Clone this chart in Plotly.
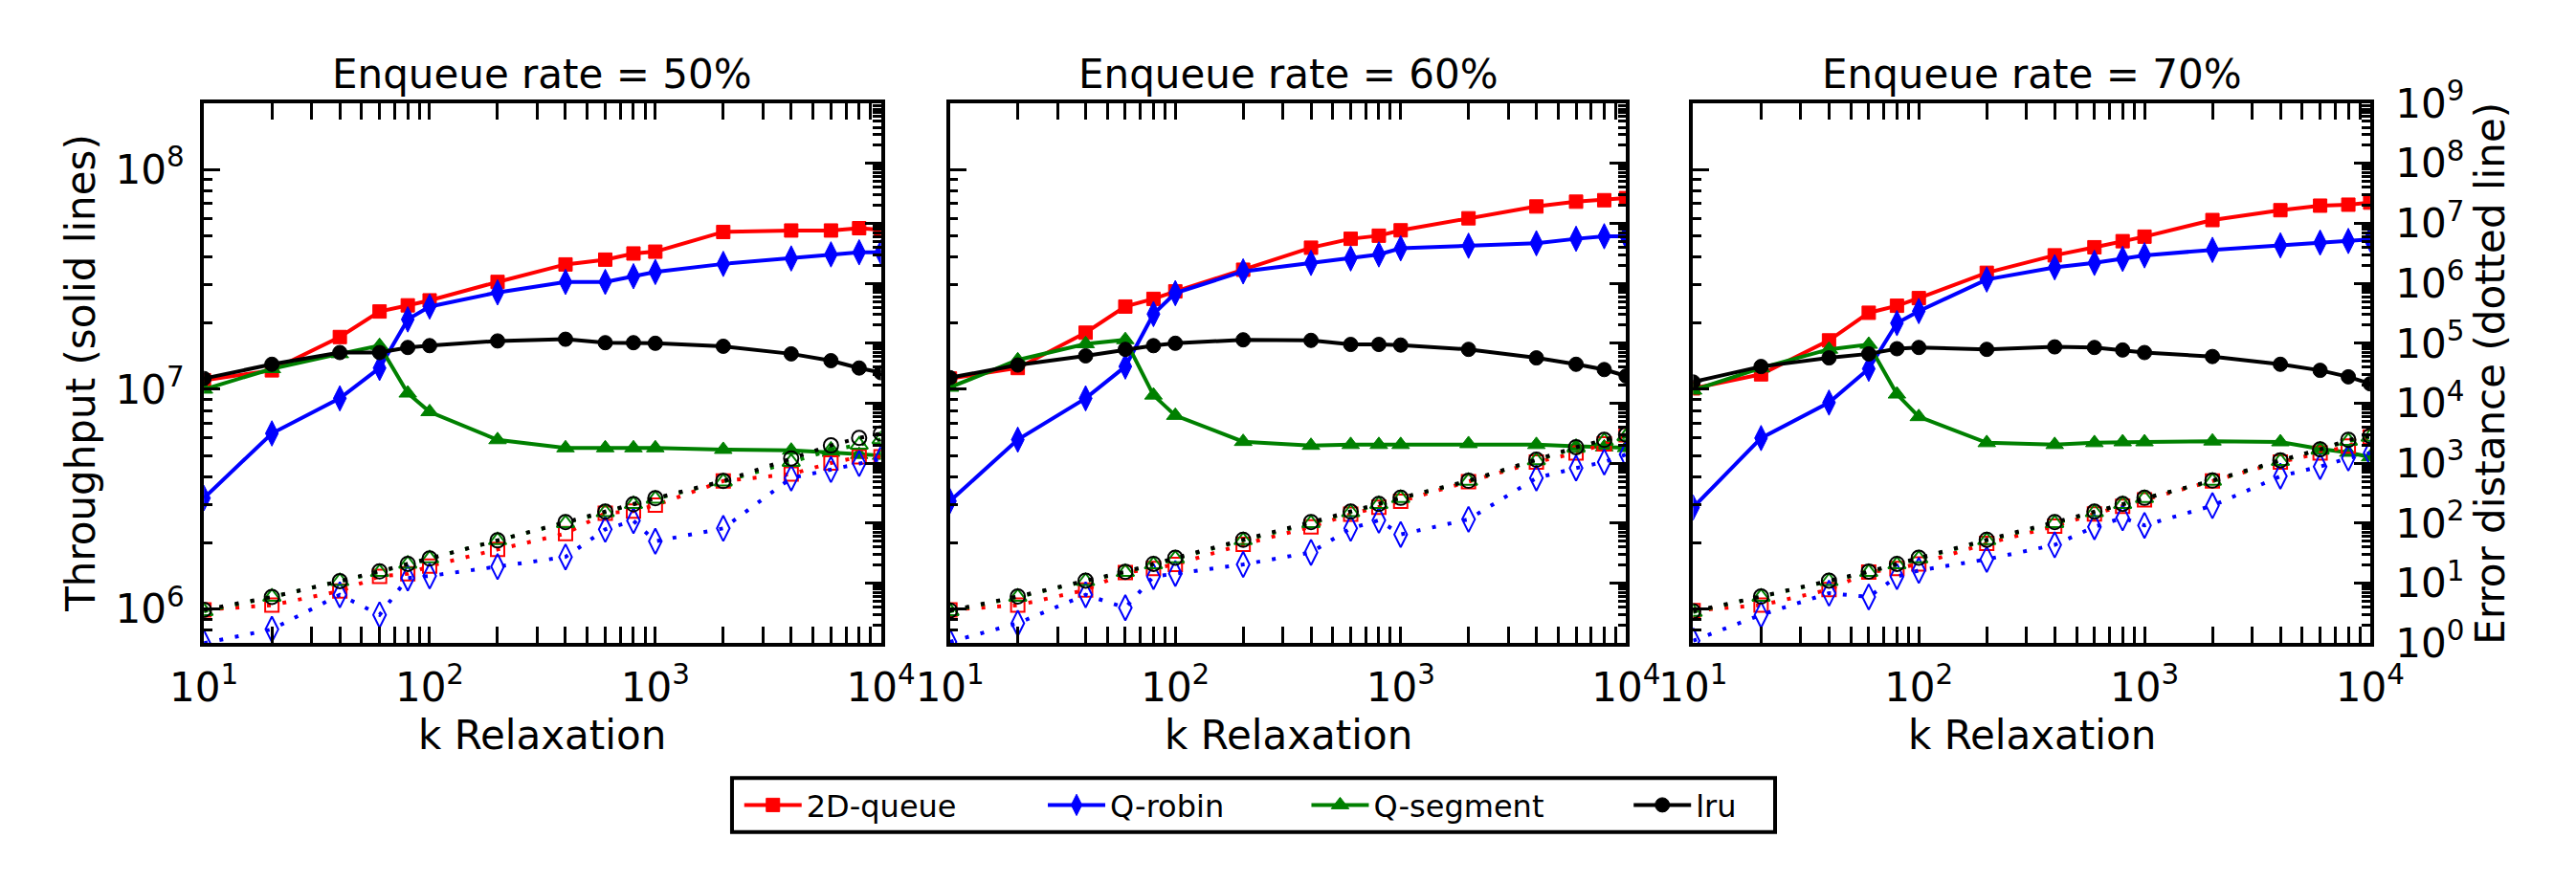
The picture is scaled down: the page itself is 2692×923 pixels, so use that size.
import plotly.graph_objects as go

# ---------------- data ----------------
k_relaxation = [10, 20, 40, 60, 80, 100, 200, 400, 600, 800, 1000, 2000, 4000, 6000, 8000, 10000]
enqueue_rates = ["50%", "60%", "70%"]
series_names = ["2D-queue", "Q-robin", "Q-segment", "lru"]

# throughput (solid lines), enqueue rate 50%
tp50_2dqueue = [1.10e7, 1.22e7, 1.73e7, 2.26e7, 2.41e7, 2.54e7, 3.08e7, 3.70e7, 3.89e7, 4.15e7, 4.23e7, 5.20e7, 5.28e7, 5.28e7, 5.41e7, 5.32e7]
tp50_qrobin = [3.2e6, 6.3e6, 9.1e6, 1.25e7, 2.08e7, 2.38e7, 2.76e7, 3.08e7, 3.08e7, 3.27e7, 3.42e7, 3.72e7, 3.94e7, 4.11e7, 4.20e7, 4.20e7]
tp50_qsegment = [1.0e7, 1.24e7, 1.45e7, 1.58e7, 9.6e6, 7.9e6, 5.89e6, 5.41e6, 5.41e6, 5.41e6, 5.41e6, 5.32e6, 5.28e6, 5.16e6, 5.05e6, 5.0e6]
tp50_lru = [1.12e7, 1.30e7, 1.47e7, 1.47e7, 1.55e7, 1.58e7, 1.66e7, 1.69e7, 1.63e7, 1.63e7, 1.62e7, 1.57e7, 1.45e7, 1.35e7, 1.25e7, 1.19e7]

# throughput, enqueue rate 60%
tp60_2dqueue = [1.12e7, 1.25e7, 1.81e7, 2.38e7, 2.58e7, 2.79e7, 3.50e7, 4.41e7, 4.84e7, 5.0e7, 5.29e7, 6.0e7, 6.79e7, 7.14e7, 7.25e7, 7.41e7]
tp60_qrobin = [3.1e6, 5.9e6, 9.1e6, 1.27e7, 2.2e7, 2.74e7, 3.44e7, 3.76e7, 3.94e7, 4.11e7, 4.38e7, 4.5e7, 4.62e7, 4.84e7, 4.97e7, 4.97e7]
tp60_qsegment = [1.02e7, 1.36e7, 1.61e7, 1.68e7, 9.4e6, 7.6e6, 5.78e6, 5.55e6, 5.6e6, 5.6e6, 5.6e6, 5.65e6, 5.6e6, 5.5e6, 5.46e6, 5.42e6]
tp60_lru = [1.13e7, 1.29e7, 1.42e7, 1.52e7, 1.58e7, 1.62e7, 1.68e7, 1.67e7, 1.60e7, 1.60e7, 1.59e7, 1.52e7, 1.39e7, 1.30e7, 1.23e7, 1.15e7]

# throughput, enqueue rate 70%
tp70_2dqueue = [1.01e7, 1.17e7, 1.67e7, 2.23e7, 2.40e7, 2.60e7, 3.39e7, 4.07e7, 4.43e7, 4.72e7, 4.95e7, 5.89e7, 6.53e7, 6.85e7, 6.92e7, 7.07e7]
tp70_qrobin = [2.9e6, 6.0e6, 8.7e6, 1.24e7, 2.0e7, 2.27e7, 3.16e7, 3.59e7, 3.76e7, 3.92e7, 4.07e7, 4.31e7, 4.52e7, 4.65e7, 4.73e7, 4.81e7]
tp70_qsegment = [9.9e6, 1.25e7, 1.52e7, 1.60e7, 9.5e6, 7.5e6, 5.71e6, 5.6e6, 5.71e6, 5.76e6, 5.76e6, 5.81e6, 5.76e6, 5.36e6, 5.16e6, 4.92e6]
tp70_lru = [1.08e7, 1.27e7, 1.39e7, 1.45e7, 1.53e7, 1.55e7, 1.52e7, 1.56e7, 1.55e7, 1.51e7, 1.47e7, 1.41e7, 1.30e7, 1.22e7, 1.14e7, 1.06e7]

# error distance (dotted lines), enqueue rate 50%
err50_2dqueue = [3.6, 4.3, 7.4, 13.0, 14.3, 19.3, 36.5, 67, 147, 159, 200, 505, 659, 1010, 1275, 1275]
err50_qrobin = [1.0, 1.7, 6.4, 2.97, 12.2, 13.2, 18.9, 27.4, 79, 110, 50, 82, 567, 784, 988, 1175]
err50_qsegment = [3.4, 5.9, 10.8, 15.3, 21, 25.8, 51.7, 100, 152, 207, 255, 494, 1048, 1660, 2026, 2495]
err50_lru = [3.6, 5.9, 10.8, 15.7, 21, 25.8, 51.7, 104, 156, 207, 261, 505, 1205, 1980, 2642, 3143]

# error distance, enqueue rate 60%
err60_2dqueue = [3.6, 4.3, 7.7, 15, 17.6, 20.5, 44.5, 87, 141, 185, 233, 494, 1048, 1482, 2098, 2967]
err60_qrobin = [1.05, 2.15, 6.4, 3.9, 12.9, 14.5, 20.5, 32.6, 82, 112, 65, 116, 567, 831, 1048, 1400]
err60_qsegment = [3.4, 5.9, 10.8, 15.3, 20.5, 25.8, 51.7, 100, 152, 207, 261, 505, 1110, 1803, 2353, 2800]
err60_lru = [3.5, 6.0, 11, 15.5, 21, 26.5, 53, 104, 156, 210, 265, 510, 1150, 1850, 2450, 3000]

# error distance, enqueue rate 70%
err70_2dqueue = [3.5, 4.3, 7.8, 15.3, 17.6, 21, 46, 89, 143, 191, 246, 505, 1048, 1482, 1934, 2737]
err70_qrobin = [1.1, 2.97, 6.8, 5.9, 12.9, 16.3, 25, 43.5, 87, 123, 92, 196, 608, 880, 1218, 1482]
err70_qsegment = [3.3, 5.9, 10.8, 15.3, 20.5, 25.8, 51.7, 100, 152, 207, 261, 505, 1084, 1664, 2353, 2737]
err70_lru = [3.4, 6.0, 11, 15.6, 21, 26.5, 53, 104, 156, 210, 265, 515, 1120, 1700, 2450, 2850]

# tick labels
x_tick_vals = [10, 100, 1000, 10000]
x_tick_text = ["10<sup>1</sup>", "10<sup>2</sup>", "10<sup>3</sup>", "10<sup>4</sup>"]
tp_tick_vals = [1e6, 1e7, 1e8]
tp_tick_text = ["10<sup>6</sup>", "10<sup>7</sup>", "10<sup>8</sup>"]
err_tick_vals = [10 ** e for e in range(0, 10)]
err_tick_text = ["10<sup>%d</sup>" % e for e in range(0, 10)]

throughput = {
    "50%": [tp50_2dqueue, tp50_qrobin, tp50_qsegment, tp50_lru],
    "60%": [tp60_2dqueue, tp60_qrobin, tp60_qsegment, tp60_lru],
    "70%": [tp70_2dqueue, tp70_qrobin, tp70_qsegment, tp70_lru],
}
error = {
    "50%": [err50_2dqueue, err50_qrobin, err50_qsegment, err50_lru],
    "60%": [err60_2dqueue, err60_qrobin, err60_qsegment, err60_lru],
    "70%": [err70_2dqueue, err70_qrobin, err70_qsegment, err70_lru],
}

# ---------------- styles ----------------
W, H = 2692, 923
FONT = "DejaVu Sans"
colors = ["#ff0000", "#0000ff", "#008000", "#000000"]
symbols = ["square", "diamond-tall", "triangle-up", "circle"]
msizes = [14, 19, 16, 15]
LW = 4
legend_ids = ["legend", "legend2", "legend3", "legend4"]

x_px = [(182, 909), (983, 1709), (1781, 2508)]
y_px = (83, 683)
ydom = [1 - y_px[1] / H, 1 - y_px[0] / H]

tp_range = [5.8451, 8.3010]   # log10(7e5) .. log10(2e8)
err_range = [0, 9]


def minor_vals(e0, e1):
    return [m * 10 ** e for e in range(e0, e1) for m in range(2, 10)]


fig = go.Figure()
layout = dict(
    width=W, height=H, autosize=False,
    margin=dict(l=0, r=0, t=0, b=0),
    paper_bgcolor="white", plot_bgcolor="white",
    font=dict(family=FONT, size=42, color="black"),
    showlegend=True,
)

tick_common = dict(ticks="inside", ticklen=17, tickwidth=2.5, tickcolor="black",
                   showline=True, linewidth=4, linecolor="black", showgrid=False,
                   zeroline=False, tickfont=dict(family=FONT, size=42, color="black"))

annotations = []
for i, rate in enumerate(enqueue_rates):
    xa = "x" if i == 0 else "x%d" % (i + 1)
    ya_l = "y" if i == 0 else "y%d" % (2 * i + 1)
    ya_r = "y%d" % (2 * i + 2)
    xkey = "xaxis" if i == 0 else "xaxis%d" % (i + 1)
    ylkey = "yaxis" if i == 0 else "yaxis%d" % (2 * i + 1)
    yrkey = "yaxis%d" % (2 * i + 2)
    x0, x1 = x_px[i]
    layout[xkey] = dict(
        type="log", range=[1, 4], domain=[x0 / W, x1 / W], anchor=ya_l,
        mirror="allticks", tickmode="array", tickvals=x_tick_vals, ticktext=x_tick_text,
        ticklabelstandoff=6,
        minor=dict(ticks="inside", ticklen=8.5, tickwidth=2.5, tickcolor="black",
                   tickmode="array", tickvals=minor_vals(1, 4), showgrid=False),
        **tick_common)
    layout[ylkey] = dict(
        type="log", range=tp_range, domain=ydom, anchor=xa, side="left",
        tickmode="array", tickvals=tp_tick_vals, ticktext=tp_tick_text,
        showticklabels=(i == 0), ticklabelstandoff=8,
        minor=dict(ticks="inside", ticklen=8.5, tickwidth=2.5, tickcolor="black",
                   tickmode="array", tickvals=minor_vals(5, 9), showgrid=False),
        **tick_common)
    layout[yrkey] = dict(
        type="log", range=err_range, domain=ydom, anchor=xa, overlaying=ya_l, side="right",
        tickmode="array", tickvals=err_tick_vals, ticktext=err_tick_text,
        showticklabels=(i == 2), ticklabelstandoff=14,
        minor=dict(ticks="inside", ticklen=8.5, tickwidth=2.5, tickcolor="black",
                   tickmode="array", tickvals=minor_vals(0, 9), showgrid=False),
        **tick_common)

    for j, name in enumerate(series_names):
        fig.add_trace(go.Scatter(
            x=k_relaxation, y=throughput[rate][j], name=name, xaxis=xa, yaxis=ya_l,
            mode="lines+markers", line=dict(color=colors[j], width=LW),
            marker=dict(symbol=symbols[j], size=msizes[j], color=colors[j],
                        line=dict(color=colors[j], width=1)),
            showlegend=(i == 0), legend=legend_ids[j]))
    for j, name in enumerate(series_names):
        fig.add_trace(go.Scatter(
            x=k_relaxation, y=error[rate][j], name=name + " error", xaxis=xa, yaxis=ya_r,
            mode="lines+markers", line=dict(color=colors[j], width=LW, dash="4px,12.5px"),
            marker=dict(symbol=symbols[j] + "-open", size=msizes[j], color=colors[j],
                        line=dict(color=colors[j], width=2)),
            showlegend=False))

    cx = (x0 + x1) / 2 / W
    annotations.append(dict(text="Enqueue rate = " + rate, x=cx, y=1 - 50 / H, xref="paper", yref="paper",
                            xanchor="center", yanchor="middle", showarrow=False,
                            font=dict(family=FONT, size=42, color="black")))
    annotations.append(dict(text="k Relaxation", x=cx, y=1 - 785 / H, xref="paper", yref="paper",
                            xanchor="center", yanchor="middle", showarrow=False,
                            font=dict(family=FONT, size=42, color="black")))

annotations.append(dict(text="Throughput (solid lines)", x=49 / W, y=1 - 383 / H, xref="paper", yref="paper",
                        xanchor="center", yanchor="middle", textangle=-90, showarrow=False,
                        font=dict(family=FONT, size=42, color="black")))
annotations.append(dict(text="Error distance (dotted line)", x=2637 / W, y=1 - 383 / H, xref="paper", yref="paper",
                        xanchor="center", yanchor="middle", textangle=-90, showarrow=False,
                        font=dict(family=FONT, size=42, color="black")))
layout["annotations"] = annotations

# legend: one entry per legend group, inside a common frame
legend_x_px = [765, 1091, 1374, 1720]
for j, lid in enumerate(legend_ids):
    layout[lid] = dict(x=(legend_x_px[j] - 8) / W, y=1 - 863 / H, xanchor="left", yanchor="middle",
                       orientation="h", bgcolor="rgba(0,0,0,0)", borderwidth=0,
                       font=dict(family=FONT, size=32, color="black"), itemwidth=60)
layout["shapes"] = [dict(type="rect", xref="paper", yref="paper",
                         x0=749 / W, x1=1869 / W, y0=1 - 893 / H, y1=1 - 833 / H,
                         line=dict(color="black", width=4), fillcolor="rgba(0,0,0,0)", layer="below")]

fig.update_layout(**layout)
fig.write_html("out.html")
